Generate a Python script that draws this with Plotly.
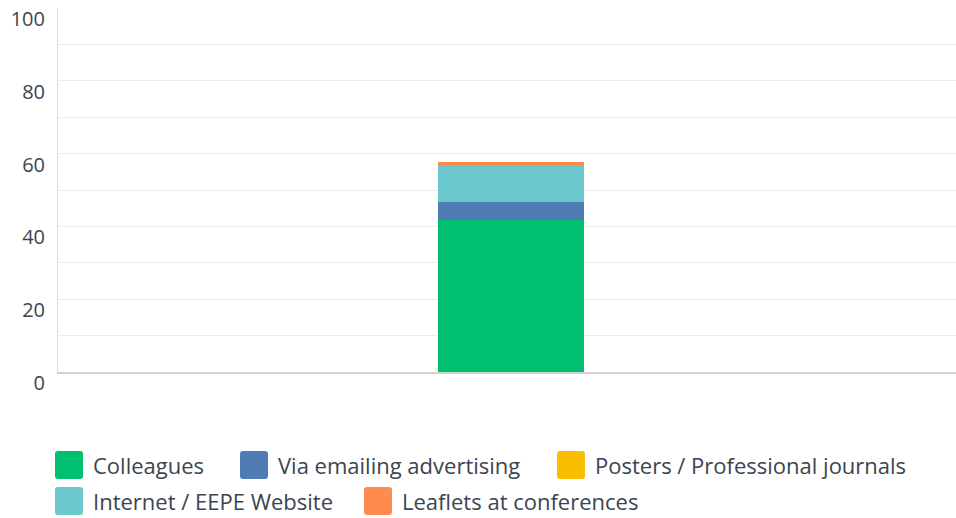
import plotly.graph_objects as go

# Survey answers: "How did you hear about us?" (percent of respondents)
categories = ["Responses"]
series_names = [
    "Colleagues",
    "Via emailing advertising",
    "Posters / Professional journals",
    "Internet / EEPE Website",
    "Leaflets at conferences",
]
series_values = [
    [41.8],
    [5.0],
    [0.0],
    [9.8],
    [1.1],
]
y_tick_values = [0, 20, 40, 60, 80, 100]
y_tick_labels = ["0", "20", "40", "60", "80", "100"]

colors = ["#00bf6f", "#507cb6", "#f9be00", "#6bc8cd", "#ff8b4f"]
text_color = "#3b4550"
font_family = "Open Sans, Roboto, sans-serif"

W, H = 956, 518
M_L, M_R, M_T, M_B = 58, 0, 8, 146
PW, PH = W - M_L - M_R, H - M_T - M_B

fig = go.Figure()
for name, vals, col in zip(series_names, series_values, colors):
    fig.add_trace(go.Bar(
        x=categories, y=vals, name=name,
        marker=dict(color=col, line=dict(width=0)),
        width=0.1626, showlegend=False,
        hovertemplate=name + ": %{y}<extra></extra>",
    ))


def px_x(px):
    return (px - M_L) / PW


def px_y(py):
    return (H - M_B - py) / PH


def rounded_rect(x0, y0, x1, y1, r):
    # rounded rectangle in pixel space, returned as a paper-coord SVG path
    def P(x, y):
        return f"{px_x(x):.5f},{px_y(y):.5f}"
    return " ".join([
        f"M {P(x0 + r, y0)}",
        f"L {P(x1 - r, y0)}",
        f"Q {P(x1, y0)} {P(x1, y0 + r)}",
        f"L {P(x1, y1 - r)}",
        f"Q {P(x1, y1)} {P(x1 - r, y1)}",
        f"L {P(x0 + r, y1)}",
        f"Q {P(x0, y1)} {P(x0, y1 - r)}",
        f"L {P(x0, y0 + r)}",
        f"Q {P(x0, y0)} {P(x0 + r, y0)} Z",
    ])


# Legend laid out in two rows below the plot (pixel slots: swatch left, row center)
legend_slots = [(55, 465), (240, 465), (557, 465), (55, 501), (364, 501)]
SW = 28
shapes = []
annotations = []
for (sx, cy), name, col in zip(legend_slots, series_names, colors):
    shapes.append(dict(
        type="path", xref="paper", yref="paper",
        path=rounded_rect(sx, cy - SW / 2, sx + SW, cy + SW / 2, 3),
        fillcolor=col, line=dict(width=0), layer="above",
    ))
    annotations.append(dict(
        x=px_x(sx + SW + 8), y=px_y(cy), xref="paper", yref="paper",
        text=name, showarrow=False, xanchor="left", yanchor="middle",
        font=dict(family=font_family, size=22, color=text_color),
    ))

fig.update_layout(
    width=W, height=H,
    margin=dict(l=M_L, r=M_R, t=M_T, b=M_B, pad=0),
    paper_bgcolor="white", plot_bgcolor="white",
    barmode="stack", bargap=0,
    showlegend=False,
    font=dict(family=font_family, size=20, color=text_color),
    shapes=shapes, annotations=annotations,
    xaxis=dict(
        range=[-0.5045, 0.4955], showticklabels=False, showgrid=False,
        zeroline=False, showline=True, linecolor="#d0d0d0", linewidth=2,
        fixedrange=True,
    ),
    yaxis=dict(
        range=[0, 100], tickvals=y_tick_values, ticktext=y_tick_labels,
        showgrid=True, gridcolor="#ececec", gridwidth=1,
        minor=dict(dtick=10, showgrid=True, gridcolor="#ececec", gridwidth=1),
        zeroline=False, showline=True, linecolor="#dcdcdc", linewidth=1,
        ticks="", ticklabelstandoff=8, ticklabelshift=11,
        tickfont=dict(family=font_family, size=20, color=text_color),
        fixedrange=True,
    ),
)

fig.write_html("out.html", config={"displayModeBar": False})
